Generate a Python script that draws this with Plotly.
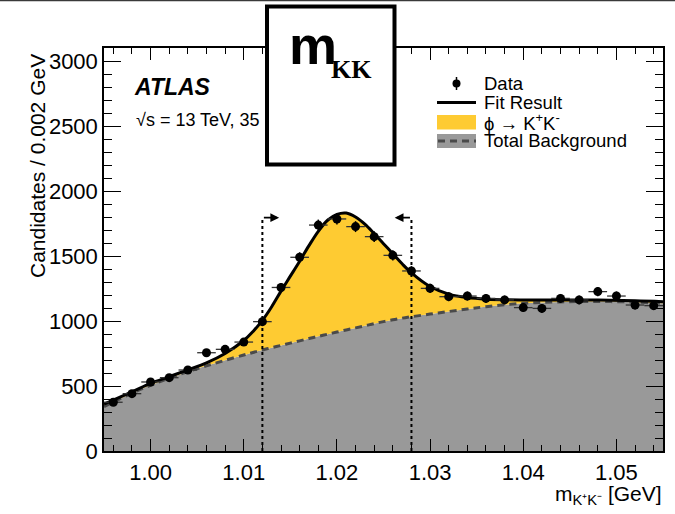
import plotly.graph_objects as go

# ---------------- data ----------------
bin_centers = [0.996, 0.998, 1.000, 1.002, 1.004, 1.006, 1.008, 1.010, 1.012, 1.014,
               1.016, 1.018, 1.020, 1.022, 1.024, 1.026, 1.028, 1.030, 1.032, 1.034,
               1.036, 1.038, 1.040, 1.042, 1.044, 1.046, 1.048, 1.050, 1.052, 1.054]
counts = [375, 441, 531, 564, 623, 756, 782, 838, 995, 1258,
          1490, 1738, 1785, 1726, 1649, 1505, 1385, 1251, 1187, 1192,
          1174, 1162, 1103, 1097, 1174, 1162, 1226, 1192, 1123, 1118]
count_err = [19, 21, 23, 24, 25, 27, 28, 29, 32, 35,
             39, 42, 42, 42, 41, 39, 37, 35, 34, 35,
             34, 34, 33, 33, 34, 34, 35, 35, 34, 33]
bin_half_width = [0.001] * len(bin_centers)

curve_x = [0.995, 0.998, 1.000, 1.002, 1.004, 1.006, 1.008, 1.010, 1.011, 1.012,
           1.013, 1.014, 1.015, 1.016, 1.017, 1.018, 1.019, 1.020, 1.021, 1.022,
           1.023, 1.024, 1.025, 1.026, 1.027, 1.028, 1.030, 1.032, 1.034, 1.036,
           1.040, 1.044, 1.048, 1.052, 1.055]
fit_y = [360, 455, 520, 572, 624, 678, 750, 850, 920, 1005,
         1110, 1230, 1345, 1460, 1580, 1690, 1775, 1820, 1830, 1800,
         1745, 1672, 1595, 1518, 1440, 1370, 1265, 1207, 1180, 1168,
         1162, 1162, 1161, 1156, 1149]
bkg_y = [341, 445, 505, 560, 610, 655, 698, 738, 758, 777,
         795, 812, 830, 847, 865, 882, 898, 915, 931, 947,
         963, 980, 995, 1010, 1022, 1033, 1053, 1073, 1092, 1110,
         1136, 1147, 1150, 1145, 1136]

window_edges = [1.012, 1.028]
window_top = 1795
arrow_len = 0.0018

x_ticks = [1.00, 1.01, 1.02, 1.03, 1.04, 1.05]
x_ticktext = ["1.00", "1.01", "1.02", "1.03", "1.04", "1.05"]
y_ticks = [0, 500, 1000, 1500, 2000, 2500, 3000]

YELLOW = "#FECB32"
GREY = "#999999"
FONT = "Liberation Sans, Arial, Helvetica, sans-serif"

# plot-area pixel geometry (for layout-only positioning)
W, H = 675, 514
L, R, T, B = 104, 12, 48, 63
PW, PH = W - L - R, H - T - B


def px(xp):
    return (xp - L) / PW


def py(yp):
    return (H - B - yp) / PH


fig = go.Figure()

# background fill (grey)
fig.add_trace(go.Scatter(x=curve_x, y=bkg_y, mode="lines", line=dict(width=0, shape="spline"),
                         fill="tozeroy", fillcolor=GREY, hoverinfo="skip", showlegend=False))
# signal fill (yellow) between background and fit
fig.add_trace(go.Scatter(x=curve_x, y=fit_y, mode="lines", line=dict(width=0, shape="spline"),
                         fill="tonexty", fillcolor=YELLOW, hoverinfo="skip", showlegend=False))
# background dashed line
fig.add_trace(go.Scatter(x=curve_x, y=bkg_y, mode="lines",
                         line=dict(color="#4a4a4a", width=3, dash="7px,5px", shape="spline"),
                         showlegend=False))
# fit line
fig.add_trace(go.Scatter(x=curve_x, y=fit_y, mode="lines",
                         line=dict(color="black", width=3, shape="spline"), showlegend=False))
# data
fig.add_trace(go.Scatter(x=bin_centers, y=counts, mode="markers",
                         marker=dict(color="black", size=9),
                         error_x=dict(type="data", array=bin_half_width, color="#333333",
                                      thickness=1.3, width=0),
                         error_y=dict(type="data", array=count_err, color="black",
                                      thickness=1.5, width=0),
                         showlegend=False))

shapes = []
annotations = []

# mass window lines and arrows
for i, xe in enumerate(window_edges):
    shapes.append(dict(type="line", xref="x", yref="y", x0=xe, x1=xe, y0=0, y1=window_top,
                       line=dict(color="black", width=2, dash="dot"), layer="above"))
    direction = 1 if i == 0 else -1
    annotations.append(dict(xref="x", yref="y", axref="x", ayref="y",
                            x=xe + direction * arrow_len, y=window_top,
                            ax=xe, ay=window_top, text="", showarrow=True,
                            arrowhead=2, arrowsize=1.1, arrowwidth=1.6, arrowcolor="black"))

# ATLAS label
annotations.append(dict(xref="paper", yref="paper", x=px(132), y=py(87), xanchor="left",
                        yanchor="middle", showarrow=False,
                        text="<b><i>ATLAS</i></b>", font=dict(family=FONT, size=23, color="black")))
annotations.append(dict(xref="paper", yref="paper", x=px(134), y=py(120), xanchor="left",
                        yanchor="middle", showarrow=False,
                        text="√s = 13 TeV, 35", font=dict(family=FONT, size=18, color="black")))

# axis titles
annotations.append(dict(xref="paper", yref="paper", x=px(37), y=py(52), xanchor="center",
                        yanchor="top", textangle=-90, showarrow=False,
                        text="Candidates / 0.002 GeV", font=dict(family=FONT, size=21, color="black")))
annotations.append(dict(xref="paper", yref="paper", x=px(664), y=py(495), xanchor="right",
                        yanchor="middle", showarrow=False,
                        text="m<sub>K⁺K⁻</sub> [GeV]", font=dict(family=FONT, size=21, color="black")))

# manual legend
LX0, LX1 = 437, 476
leg_font = dict(family=FONT, size=18.5, color="black")
rows = [(83.5, "Data"), (102, "Fit Result"), (121.5, "ϕ → K<sup>+</sup>K<sup>-</sup>"),
        (140, "Total Background")]
for yrow, label in rows:
    annotations.append(dict(xref="paper", yref="paper", x=px(482), y=py(yrow), xanchor="left",
                            yanchor="middle", showarrow=False, text=label, font=leg_font))
# data marker in legend
shapes.append(dict(type="line", xref="paper", yref="paper", x0=px(456.5), x1=px(456.5),
                   y0=py(77), y1=py(90), line=dict(color="black", width=1.5)))
shapes.append(dict(type="circle", xref="paper", yref="paper", x0=px(452.5), x1=px(460.5),
                   y0=py(79.5), y1=py(87.5), fillcolor="black", line=dict(color="black", width=0)))
# fit line in legend
shapes.append(dict(type="line", xref="paper", yref="paper", x0=px(LX0), x1=px(LX1),
                   y0=py(102.5), y1=py(102.5), line=dict(color="black", width=3)))
# signal box
shapes.append(dict(type="rect", xref="paper", yref="paper", x0=px(LX0), x1=px(LX1),
                   y0=py(115), y1=py(129.5), fillcolor=YELLOW, line=dict(width=0)))
# background box + dashed line
shapes.append(dict(type="rect", xref="paper", yref="paper", x0=px(LX0), x1=px(LX1),
                   y0=py(134), y1=py(148), fillcolor=GREY, line=dict(width=0)))
shapes.append(dict(type="line", xref="paper", yref="paper", x0=px(LX0 + 1), x1=px(LX1),
                   y0=py(141), y1=py(141), line=dict(color="#4a4a4a", width=3, dash="7px,5px")))

# thin line at the very top of the image
shapes.append(dict(type="line", xref="paper", yref="paper", x0=px(0), x1=px(W),
                   y0=py(0.5), y1=py(0.5), line=dict(color="#3a3a3a", width=1.5), layer="above"))

# overlay box with m_KK
shapes.append(dict(type="rect", xref="paper", yref="paper", x0=px(267), x1=px(394.5),
                   y0=py(6.5), y1=py(164.5), fillcolor="white",
                   line=dict(color="black", width=4), layer="above"))
annotations.append(dict(xref="paper", yref="paper", x=px(287), y=py(45), xanchor="left",
                        yanchor="middle", showarrow=False, text="<b>m</b>",
                        font=dict(family=FONT, size=54, color="black")))
annotations.append(dict(xref="paper", yref="paper", x=px(329), y=py(70), xanchor="left",
                        yanchor="middle", showarrow=False, text="<b>KK</b>",
                        font=dict(family="Liberation Serif, Times New Roman, serif", size=26,
                                  color="black")))

axis_common = dict(showline=True, linecolor="black", linewidth=1.5, mirror="allticks",
                   ticks="inside", tickcolor="black", showgrid=False, zeroline=False,
                   tickfont=dict(family=FONT, size=22, color="black"))

fig.update_layout(
    width=W, height=H,
    margin=dict(l=L, r=R, t=T, b=B, autoexpand=False),
    paper_bgcolor="white", plot_bgcolor="white",
    showlegend=False,
    shapes=shapes, annotations=annotations,
    xaxis=dict(range=[0.995, 1.055], tickvals=x_ticks, ticktext=x_ticktext, ticklen=12,
               tickwidth=1.3, ticklabelstandoff=1,
               minor=dict(ticks="inside", dtick=0.002, tick0=1.0, ticklen=6, tickcolor="black",
                          tickwidth=1.2),
               **axis_common),
    yaxis=dict(range=[0, 3100], tickvals=y_ticks, ticklen=17, tickwidth=1.3,
               minor=dict(ticks="inside", dtick=100, tick0=0, ticklen=8, tickcolor="black",
                          tickwidth=1.2),
               **axis_common),
)

fig.write_html("out.html")
